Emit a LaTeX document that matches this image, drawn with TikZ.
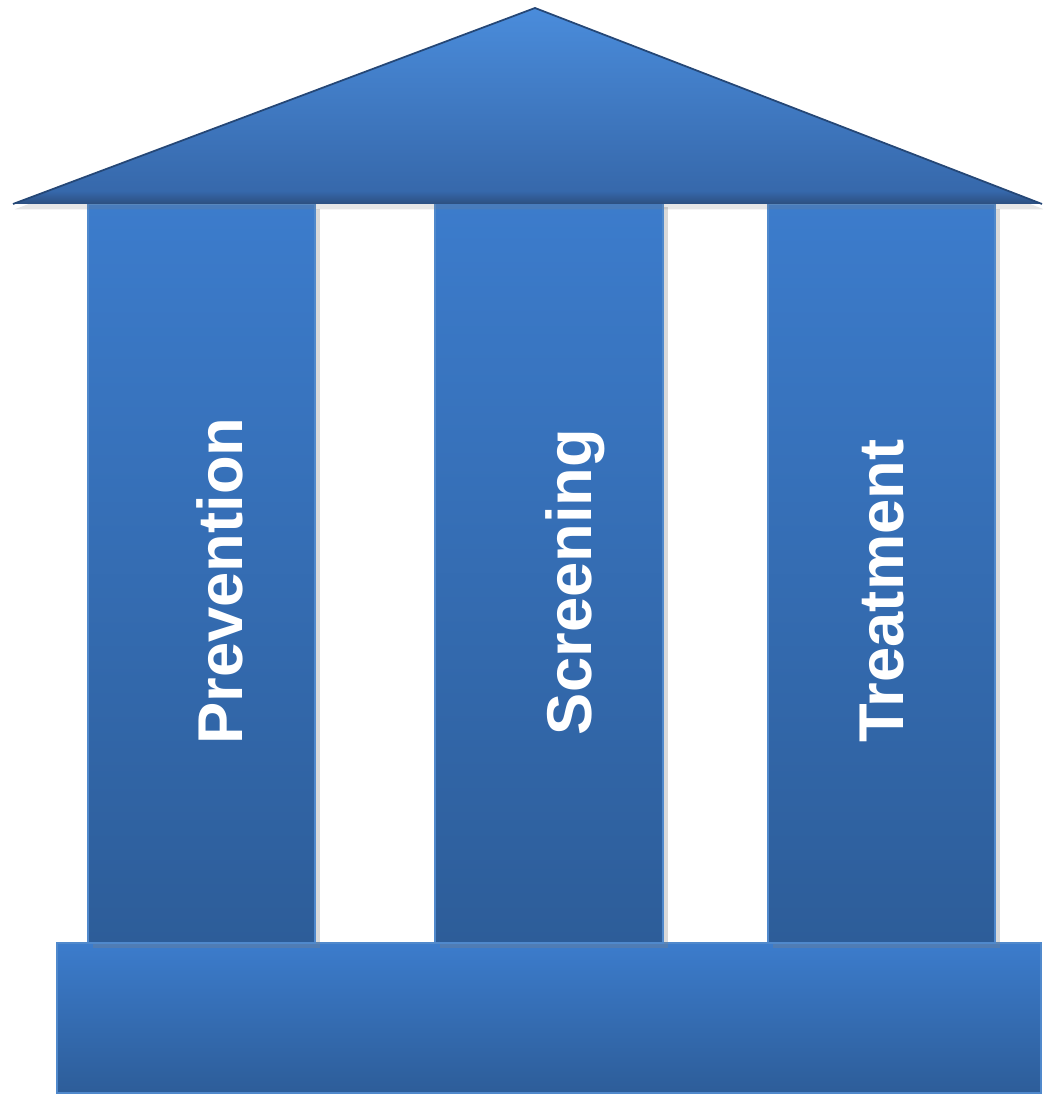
\documentclass[tikz,border=0pt]{standalone}
\usepackage{fontspec}
\setmainfont{Liberation Sans}
\usetikzlibrary{shadows}

\definecolor{rooftop}{HTML}{4A8CDB}
\definecolor{roofbottom}{HTML}{3566A8}
\definecolor{roofedge}{HTML}{2C4D7C}
\definecolor{pillartop}{HTML}{3C7CCC}
\definecolor{pillarbottom}{HTML}{2D5D99}
\definecolor{pillarline}{HTML}{5089CC}

\tikzset{
  pillar/.style={draw=pillarline, line width=0.6pt, top color=pillartop, bottom color=pillarbottom,
    drop shadow={shadow xshift=1.5pt, shadow yshift=-1.5pt, opacity=0.3}},
  pillarlabel/.style={anchor=base, rotate=90, text=white, font=\fontsize{18}{20}\selectfont\bfseries, inner sep=0pt}
}

\begin{document}
\begin{tikzpicture}[x=0.01cm, y=-0.01cm]

      \useasboundingbox (0,0) rectangle (1042,1095);

      % base
      \fill[top color=pillartop, bottom color=pillarbottom] (57,943) rectangle (1041,1093);
      \draw[pillarline, line width=0.6pt] (57,943) rectangle (1041,1093);

      % pillars
      \path[pillar] (88,204) rectangle (315,943);
      \path[pillar] (435,202) rectangle (663,943);
      \path[pillar] (768,204) rectangle (995,943);

      % roof
      \path[top color=rooftop, bottom color=roofbottom,
        drop shadow={shadow xshift=0.5pt, shadow yshift=-1.5pt, opacity=0.2}]
        (13,204) -- (535,8) -- (1042,204) -- cycle;
      \begin{scope}
        \clip (13,204) -- (535,8) -- (1042,204) -- cycle;
        \fill[top color=roofbottom, bottom color=roofedge] (0,192) rectangle (1042,205);
      \end{scope}
      \draw[roofbottom!70!black, line width=0.5pt] (13,204) -- (535,8) -- (1042,204);

      % labels
      \node[pillarlabel] (prevention) at (242,581) {Prevention};
      \node[pillarlabel] (screening) at (591,582) {Screening};
      \node[pillarlabel] (treatment) at (903,591) {Treatment};

    \end{tikzpicture}
\end{document}
